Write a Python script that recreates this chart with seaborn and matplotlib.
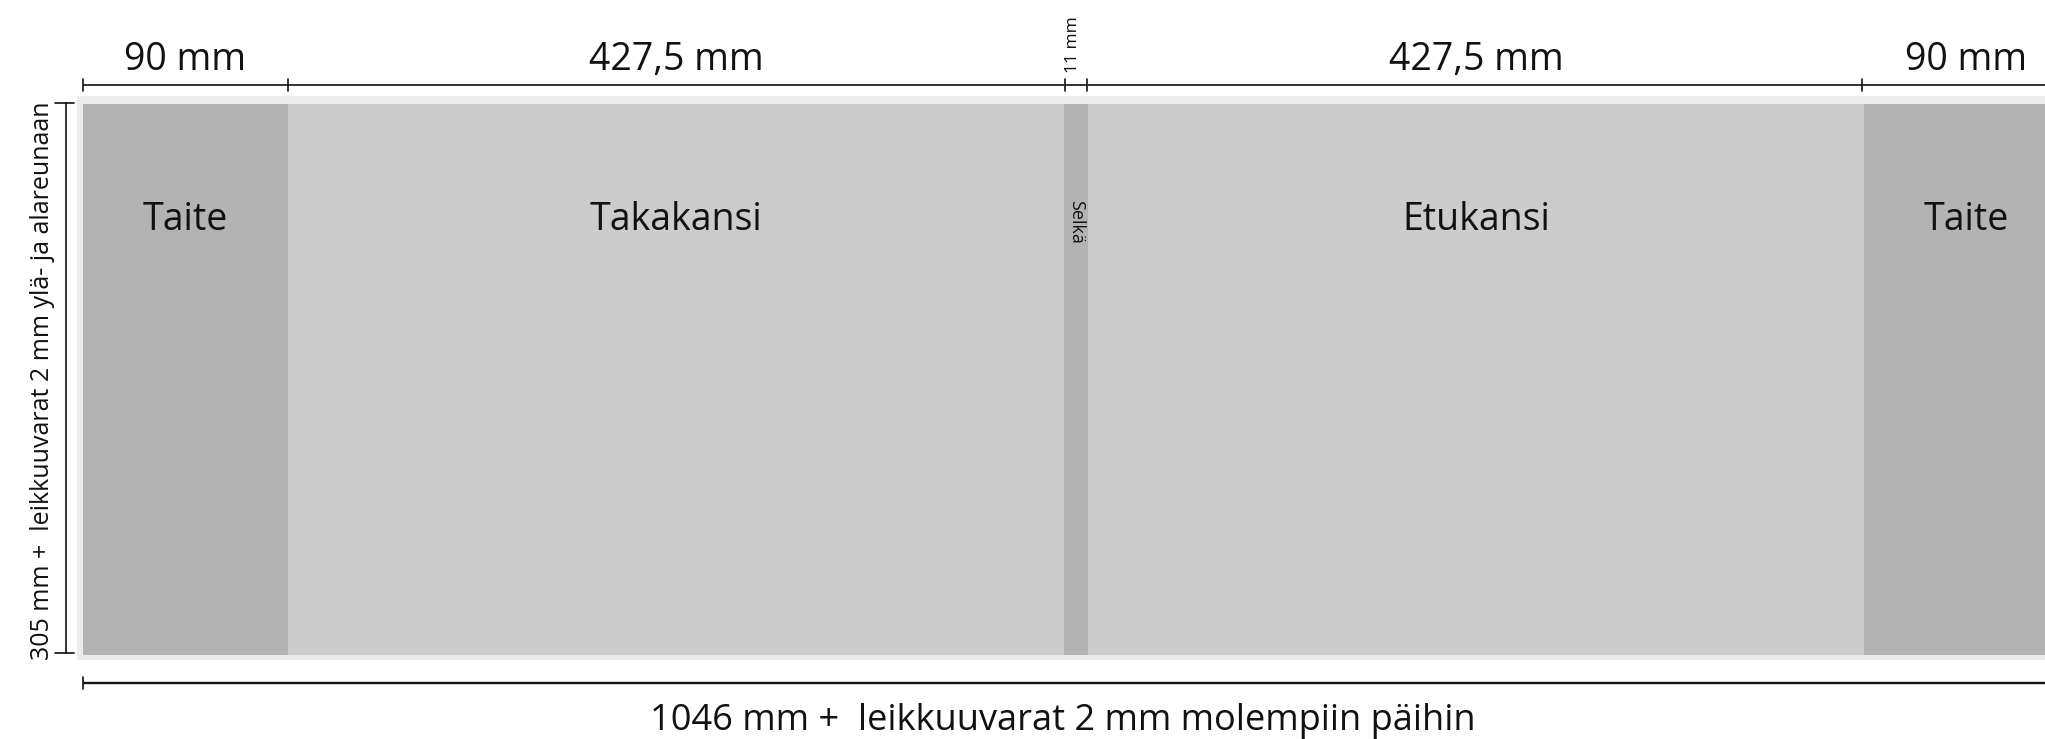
import matplotlib
matplotlib.use("Agg")
import matplotlib.pyplot as plt
import seaborn as sns
from matplotlib.patches import Rectangle

# ---- data ----
panels = ["Taite", "Takakansi", "Selkä", "Etukansi", "Taite"]
panel_mm = ["90 mm", "427,5 mm", "11 mm", "427,5 mm", "90 mm"]
panel_kind = ["fold", "cover", "spine", "cover", "fold"]
height_label = "305 mm +  leikkuuvarat 2 mm ylä- ja alareunaan"
width_label = "1046 mm +  leikkuuvarat 2 mm molempiin päihin"

# ---- layout (schematic, not to scale) ----
draw_w = [205, 776, 24, 776, 205]
x0 = 83
top, bottom = 104, 655
colors = {"fold": "#b3b3b3", "cover": "#cccccc", "spine": "#b3b3b3"}

sns.set_theme(style="white")
plt.rcParams['font.family'] = ['Open Sans', 'DejaVu Sans']

fig = plt.figure(figsize=(20.45, 7.39), dpi=100)
ax = fig.add_axes([0, 0, 1, 1])
ax.set_xlim(0, 2045)
ax.set_ylim(739, 0)
ax.axis("off")

# bleed border
ax.add_patch(Rectangle((77, 96), 2100, 564, facecolor="#ececec", edgecolor="none", zorder=0))

lefts = []
acc = x0
for w in draw_w:
    lefts.append(acc)
    acc += w

ax.bar(lefts, bottom - top, width=draw_w, bottom=top, align="edge",
       color=[colors[k] for k in panel_kind], edgecolor="none", zorder=1)

# top dimension line
ax.plot([x0, 2100], [85, 85], color="#111111", lw=1.2, zorder=3, solid_capstyle="butt")
ticks = [lefts[0], lefts[1], lefts[2] + 1, lefts[3] - 1, lefts[4] - 2, acc]
for t in ticks:
    ax.plot([t, t], [79, 91], color="#111111", lw=1.2, zorder=3)

# labels
for name, mm, l, w, kind in zip(panels, panel_mm, lefts, draw_w, panel_kind):
    cx = l + w / 2
    if kind == "spine":
        ax.text(cx - 3, 45, mm, rotation=90, ha="center", va="center", fontsize=12.5, color="#111111")
        ax.text(cx, 222, name, rotation=270, ha="center", va="center", fontsize=13, color="#111111")
    else:
        ax.text(cx, 70, mm, ha="center", va="baseline", fontsize=27, color="#111111")
        ax.text(cx, 230, name, ha="center", va="baseline", fontsize=27, color="#111111")

# left vertical dimension
ax.plot([66, 66], [103, 653], color="#111111", lw=1.2, zorder=3)
for yy in (103, 653):
    ax.plot([55, 74], [yy, yy], color="#111111", lw=1.2, zorder=3)
ax.text(43, 381, height_label, rotation=90, ha="center", va="center", fontsize=18, color="#111111")

# bottom dimension
ax.plot([x0, 2100], [683, 683], color="#111111", lw=1.7, zorder=3, solid_capstyle="butt")
ax.plot([x0, x0], [677, 689], color="#111111", lw=1.2, zorder=3)
ax.text(1063, 730, width_label, ha="center", va="baseline", fontsize=26, color="#111111")

fig.savefig("out.png", dpi=100)
